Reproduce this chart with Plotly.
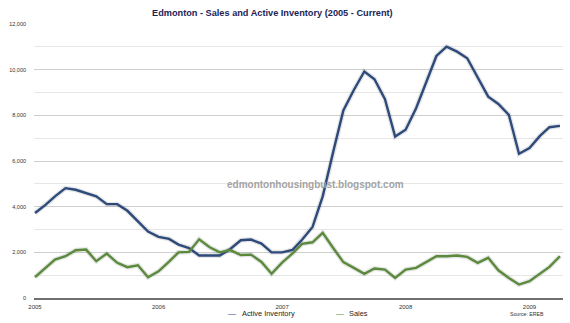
import plotly.graph_objects as go
import pandas as pd

# Monthly data, Jan 2005 .. Apr 2009
months = pd.date_range("2005-01-01", periods=52, freq="MS")

active_inventory = [
    3720, 4080, 4450, 4810, 4740, 4600, 4450, 4110, 4110, 3820, 3350, 2910,   # 2005
    2680, 2590, 2340, 2190, 1860, 1860, 1860, 2150, 2530, 2560, 2380, 2000,   # 2006
    2000, 2110, 2550, 3110, 4450, 6400, 8210, 9110, 9920, 9580, 8710, 7070,   # 2007
    7370, 8310, 9450, 10600, 11010, 10790, 10500, 9630, 8820, 8500, 8020, 6320,  # 2008
    6570, 7100, 7480, 7540,                                                   # 2009
]

sales = [
    910, 1300, 1680, 1830, 2090, 2120, 1610, 1945, 1540, 1350, 1435, 910,     # 2005
    1170, 1590, 2000, 2020, 2570, 2220, 2000, 2100, 1880, 1900, 1580, 1060,   # 2006
    1550, 1950, 2370, 2440, 2850, 2190, 1570, 1320, 1060, 1290, 1245, 880,    # 2007
    1245, 1320, 1570, 1830, 1830, 1860, 1800, 1540, 1760, 1215, 880, 590,     # 2008
    735, 1070, 1360, 1830,                                                    # 2009
]

y_ticks = [0, 2000, 4000, 6000, 8000, 10000, 12000]

INV_COLOR = "#2d4a7a"
SALES_COLOR = "#5b8a3c"
FONT = "Liberation Sans, Arial, Helvetica, sans-serif"

W, H = 570, 323
L, R, T, B = 34, 7, 24, 24.5
PW, PH = W - L - R, H - T - B


def px_x(x):
    return (x - L) / PW


def px_y(y):
    return (H - B - y) / PH


fig = go.Figure()

# soft shadows
for ys in (active_inventory, sales):
    fig.add_trace(go.Scatter(
        x=months, y=ys, mode="lines",
        line=dict(color="rgba(0,0,0,0.10)", width=5),
        hoverinfo="skip", showlegend=False,
    ))

fig.add_trace(go.Scatter(
    x=months, y=active_inventory, mode="lines", name="Active Inventory",
    line=dict(color=INV_COLOR, width=2.4), showlegend=False,
))
fig.add_trace(go.Scatter(
    x=months, y=sales, mode="lines", name="Sales",
    line=dict(color=SALES_COLOR, width=2.4), showlegend=False,
))

annotations = [
    dict(text="<b>Edmonton - Sales and Active Inventory (2005 - Current)</b>",
         xref="paper", yref="paper", x=px_x(272), y=px_y(13.3),
         xanchor="center", yanchor="middle", showarrow=False,
         font=dict(family=FONT, size=9.2, color="#1c2457")),
    dict(text="<b>edmontonhousingbust.blogspot.com</b>",
         xref="paper", yref="paper", x=px_x(315), y=px_y(184.3),
         xanchor="center", yanchor="middle", showarrow=False,
         font=dict(family=FONT, size=10, color="#a3a3a3")),
    # legend
    dict(text="—", xref="paper", yref="paper", x=px_x(232), y=px_y(314.3),
         xanchor="center", yanchor="middle", showarrow=False,
         font=dict(family=FONT, size=8, color=INV_COLOR)),
    dict(text="Active Inventory", xref="paper", yref="paper", x=px_x(239.5), y=px_y(314.3),
         xanchor="left", yanchor="middle", showarrow=False,
         font=dict(family=FONT, size=7.4, color="#222222")),
    dict(text="—", xref="paper", yref="paper", x=px_x(340), y=px_y(314.3),
         xanchor="center", yanchor="middle", showarrow=False,
         font=dict(family=FONT, size=8, color=SALES_COLOR)),
    dict(text="Sales", xref="paper", yref="paper", x=px_x(346.5), y=px_y(314.3),
         xanchor="left", yanchor="middle", showarrow=False,
         font=dict(family=FONT, size=7.4, color="#222222")),
    dict(text="Source: EREB", xref="paper", yref="paper", x=px_x(508), y=px_y(315),
         xanchor="left", yanchor="middle", showarrow=False,
         font=dict(family=FONT, size=5.2, color="#333333")),
]

fig.update_layout(
    width=W, height=H,
    margin=dict(l=L, r=R, t=T, b=B, pad=0),
    paper_bgcolor="white", plot_bgcolor="white",
    showlegend=False,
    annotations=annotations,
    font=dict(family=FONT),
)

fig.update_xaxes(
    type="date",
    range=["2004-12-29", "2009-04-10"],
    dtick="M12", tick0="2005-01-01", tickformat="%Y",
    showgrid=False, zeroline=False,
    showline=True, linecolor="#707070", linewidth=1.5,
    ticks="", ticklabelstandoff=2,
    tickfont=dict(family=FONT, size=6, color="#333333"),
)

fig.update_yaxes(
    range=[0, 12000],
    tickvals=y_ticks, ticktext=[f"{v:,}" for v in y_ticks],
    showgrid=True, gridcolor="#cfcfcf", gridwidth=1,
    minor=dict(dtick=1000, tick0=0, showgrid=True, gridcolor="#e6e6e6", gridwidth=1),
    zeroline=False, showline=False,
    ticks="", ticklabelstandoff=7,
    tickfont=dict(family=FONT, size=5.5, color="#333333"),
)

fig.write_html("out.html")
